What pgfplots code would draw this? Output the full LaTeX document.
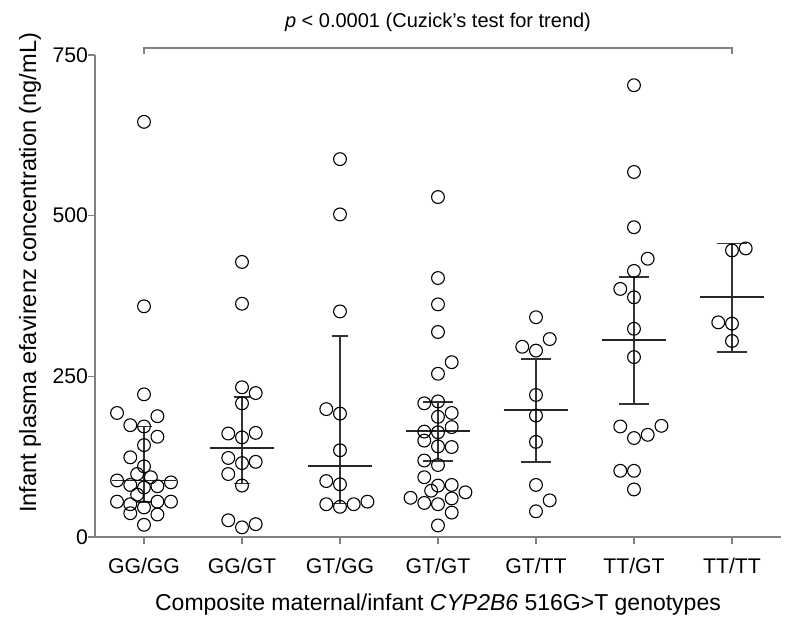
\documentclass[border=0pt]{standalone}
\usepackage{pgfplots}
\pgfplotsset{compat=1.18}
\usepackage{fontspec}
\setmainfont{Liberation Sans}
\definecolor{axgray}{HTML}{808080}
\begin{document}
\begin{tikzpicture}
\path[use as bounding box] (-47.5pt,-45.5pt) rectangle (352.5pt,268.5pt);
\begin{axis}[
  at={(0,0)}, anchor=south west,
  scale only axis, width=343pt, height=241pt,
  xmin=-0.5, xmax=6.5, ymin=0, ymax=750,
  axis x line*=bottom, axis y line*=left,
  xtick={0,1,2,3,4,5,6},
  xticklabels={GG/GG,GG/GT,GT/GG,GT/GT,GT/TT,TT/GT,TT/TT},
  ytick={0,250,500,750},
  tick align=outside, major tick length=3.5pt,
  axis line style={axgray, line width=0.8pt},
  tick style={axgray, line width=0.8pt},
  /pgf/number format/assume math mode=true,
  ticklabel style={font=\fontsize{10.6}{13}\selectfont, black},
  xticklabel style={yshift=-3.5pt},
  yticklabel style={xshift=3.5pt},
  xlabel={Composite maternal/infant \textit{CYP2B6} 516G>T genotypes},
  ylabel={Infant plasma efavirenz concentration (ng/mL)},
  every axis x label/.style={at={(axis description cs:0.5,-0.141)}, anchor=center, font=\fontsize{11.5}{14}\selectfont},
  every axis y label/.style={at={(axis description cs:-0.0948,0.548)}, rotate=90, anchor=center, font=\fontsize{11.8}{14}\selectfont},
  unbounded coords=jump,
  clip=false,
]
% IQR whiskers and caps
\addplot[black!80, line width=0.8pt, mark=none] coordinates {
(0,54) (0,172) (0,nan) (-0.085,172) (0.085,172) (0,nan) (-0.085,54) (0.085,54) (0,nan)
(1,83) (1,218) (1,nan) (0.915,218) (1.085,218) (1,nan) (0.915,83) (1.085,83) (1,nan)
(2,52) (2,313) (2,nan) (1.915,313) (2.085,313) (2,nan) (1.915,52) (2.085,52) (2,nan)
(3,118) (3,210) (3,nan) (2.845,210) (3.155,210) (3,nan) (2.845,118) (3.155,118) (3,nan)
(4,117) (4,277) (4,nan) (3.845,277) (4.155,277) (4,nan) (3.845,117) (4.155,117) (4,nan)
(5,207) (5,405) (5,nan) (4.845,405) (5.155,405) (5,nan) (4.845,207) (5.155,207) (5,nan)
(6,288) (6,457) (6,nan) (5.845,457) (6.155,457) (6,nan) (5.845,288) (6.155,288) (6,nan)
};
% medians
\addplot[black!85, line width=0.9pt, mark=none] coordinates {
(-0.33,88) (0.33,88) (0,nan)
(0.67,139) (1.33,139) (1,nan)
(1.67,111) (2.33,111) (2,nan)
(2.67,165) (3.33,165) (3,nan)
(3.67,198) (4.33,198) (4,nan)
(4.67,306.5) (5.33,306.5) (5,nan)
(5.67,373) (6.33,373)
};
% individual values
\addplot[only marks, mark=o, mark size=3.2pt, mark options={black, line width=0.55pt}] table {
x y
0 646
0 359
0 222
-0.275 193
-0.14 174
0 172
0.137 188
0.137 156
0 143
-0.14 124
0 110
-0.07 98
0.07 93
-0.275 88
0.275 85
-0.14 81
0 77
0.137 79
-0.07 66
-0.275 55
-0.14 51
0 46
0.137 55
0.275 55
-0.14 37
0.137 35
0 19
1 428
1 363
1 233
1.14 224
1 208
0.86 161
1 155
1.14 162
0.86 123
1 115
1.14 117
0.86 98
1 80
0.86 26
1 15
1.14 20
2 588
2 502
2 351
1.86 199
2 192
2 135
1.86 87
2 82
1.86 51
2 47
2.14 51
2.28 55
3 529
3 403
3 362
3 319
3.14 272
3 254
2.86 208
3 211
3.14 193
3 187
2.86 164
3 163
3.14 171
2.86 150
3 141
3.14 140
2.86 119
3 112
2.86 93
3 80
3.14 81
2.93 72
3.28 69.5
2.72 61
2.86 53
3 51
3.14 60
3.14 38
3 18
4 342
3.86 296
4 290
4.14 308
4 221
4 189
4 148
4 81
4.14 57
4 40
5 703
5 568
5 482
5.14 433
5 414
4.86 386
5 373
5 324
5 280
4.86 172
5.28 173
5 154
5.14 159
4.86 103
5 103
5 74
6 446
6.14 449
5.86 334
6 332
6 305
};
% trend bracket and annotation
\draw[axgray, line width=0.7pt] (axis cs:0,752) -- (axis cs:0,761) -- (axis cs:6,761) -- (axis cs:6,752);
\node[font=\fontsize{10}{12}\selectfont, anchor=center] at (axis cs:3,801) {\textit{p} < 0.0001 (Cuzick's test for trend)};
\end{axis}
\end{tikzpicture}
\end{document}
